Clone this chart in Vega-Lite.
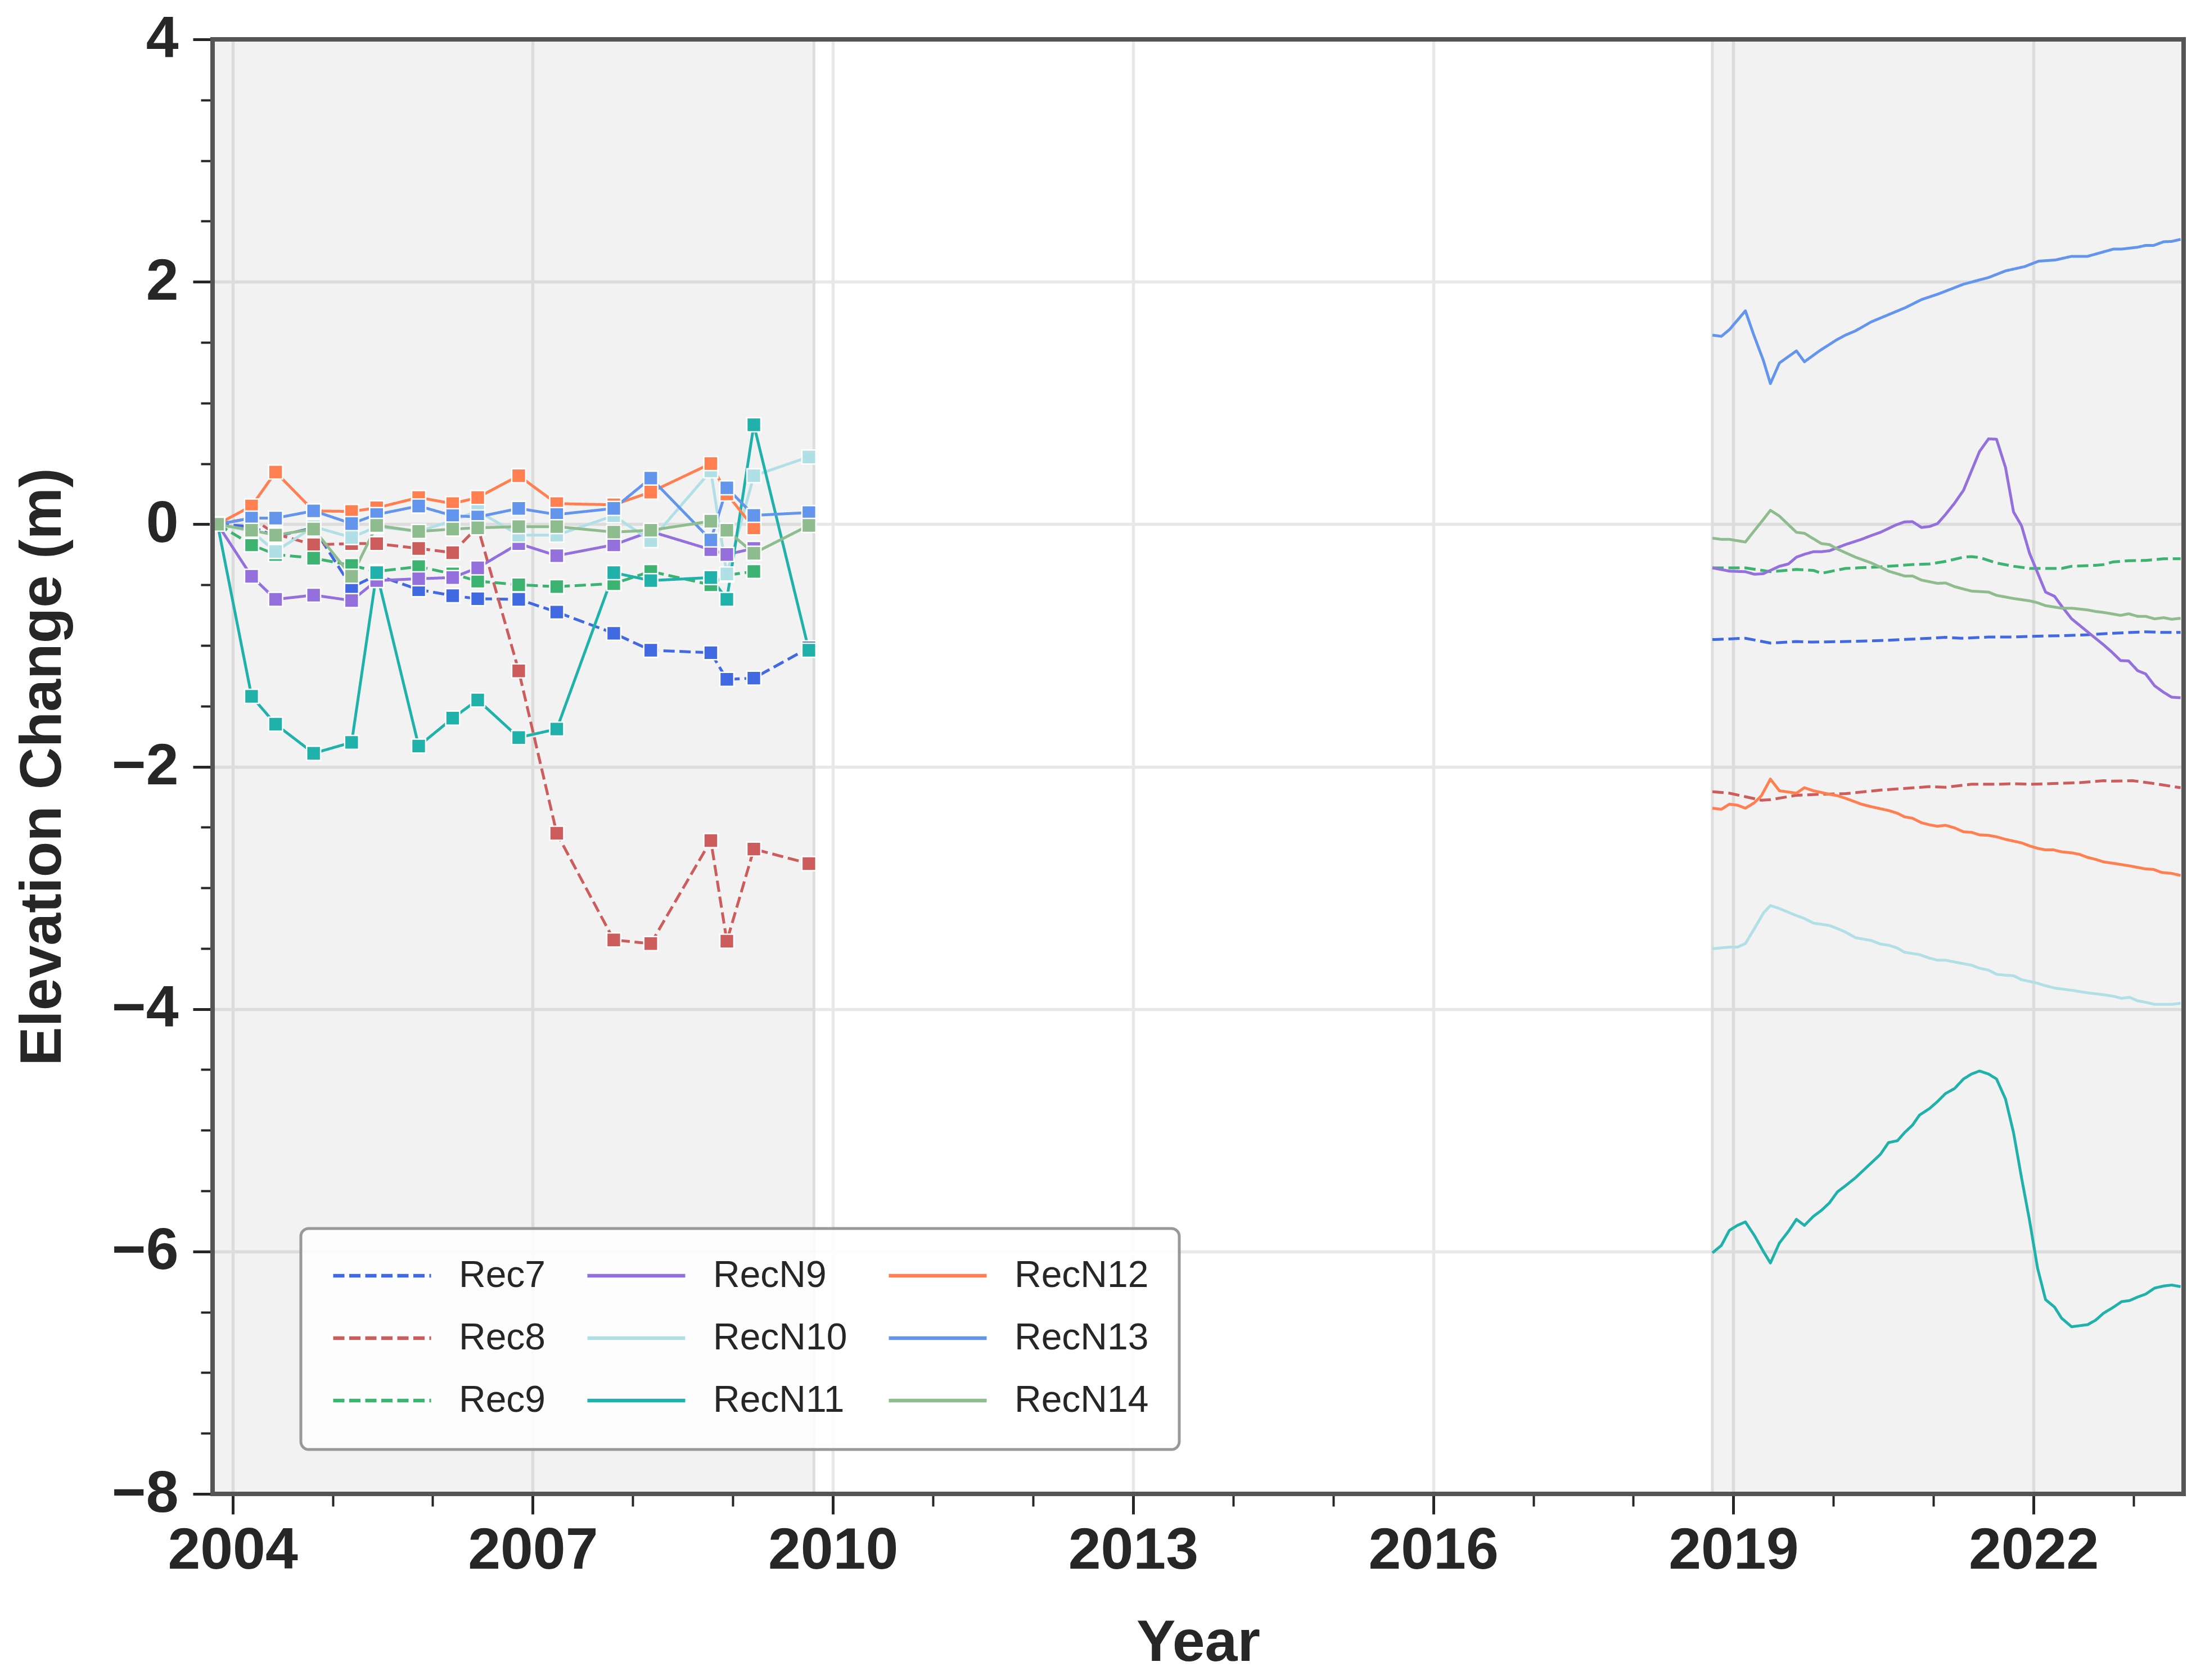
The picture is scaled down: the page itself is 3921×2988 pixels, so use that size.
{
"$schema": "https://vega.github.io/schema/vega-lite/v6.json",
"width": 3505,
"height": 2587,
"autosize": {"type": "none"},
"padding": {"left": 378, "top": 70, "right": 38, "bottom": 331},
"background": "white",
"config": {
  "view": {"stroke": "#555555", "strokeWidth": 8},
  "style": {"cell": {"stroke": "#555555", "strokeWidth": 8, "strokeForeground": true}},
  "axis": {"labelFont": "Liberation Sans", "titleFont": "Liberation Sans", "labelColor": "#262626", "titleColor": "#262626", "tickColor": "#262626", "labelFontWeight": "bold", "titleFontWeight": "bold", "labelFontSize": 104, "titleFontSize": 104, "labelLimit": 1000, "titleLimit": 3000, "domain": false, "labelFlush": false, "labelOverlap": false, "labelBound": false, "gridColor": "#e8e8e8", "gridWidth": 5.5}
},
"datasets": {
  "spans": [{"a": 2003.8, "b": 2009.81}, {"a": 2018.79, "b": 2023.5}],
  "edges": [{"a": 2009.81}, {"a": 2018.79}],
  "series": [
{"s":"Rec7","p":1,"t":2003.85,"v":0},{"s":"Rec7","p":1,"t":2004.19,"v":-0.02},{"s":"Rec7","p":1,"t":2004.43,"v":-0.10},{"s":"Rec7","p":1,"t":2004.81,"v":-0.03},{"s":"Rec7","p":1,"t":2005.19,"v":-0.52},{"s":"Rec7","p":1,"t":2005.44,"v":-0.42},{"s":"Rec7","p":1,"t":2005.86,"v":-0.54},{"s":"Rec7","p":1,"t":2006.20,"v":-0.59},{"s":"Rec7","p":1,"t":2006.45,"v":-0.615},{"s":"Rec7","p":1,"t":2006.86,"v":-0.62},{"s":"Rec7","p":1,"t":2007.24,"v":-0.725},{"s":"Rec7","p":1,"t":2007.81,"v":-0.90},{"s":"Rec7","p":1,"t":2008.18,"v":-1.04},{"s":"Rec7","p":1,"t":2008.78,"v":-1.06},{"s":"Rec7","p":1,"t":2008.94,"v":-1.28},{"s":"Rec7","p":1,"t":2009.21,"v":-1.27},{"s":"Rec7","p":1,"t":2009.76,"v":-1.02},
{"s":"Rec7","p":2,"t":2018.79,"v":-0.952},{"s":"Rec7","p":2,"t":2019.12,"v":-0.941},{"s":"Rec7","p":2,"t":2019.37,"v":-0.981},{"s":"Rec7","p":2,"t":2019.63,"v":-0.968},{"s":"Rec7","p":2,"t":2019.78,"v":-0.973},{"s":"Rec7","p":2,"t":2020.12,"v":-0.968},{"s":"Rec7","p":2,"t":2020.47,"v":-0.96},{"s":"Rec7","p":2,"t":2020.96,"v":-0.941},{"s":"Rec7","p":2,"t":2021.12,"v":-0.933},{"s":"Rec7","p":2,"t":2021.28,"v":-0.941},{"s":"Rec7","p":2,"t":2021.55,"v":-0.931},{"s":"Rec7","p":2,"t":2021.80,"v":-0.931},{"s":"Rec7","p":2,"t":2021.96,"v":-0.925},{"s":"Rec7","p":2,"t":2022.28,"v":-0.92},{"s":"Rec7","p":2,"t":2022.54,"v":-0.912},{"s":"Rec7","p":2,"t":2022.80,"v":-0.899},{"s":"Rec7","p":2,"t":2023.12,"v":-0.888},{"s":"Rec7","p":2,"t":2023.30,"v":-0.893},{"s":"Rec7","p":2,"t":2023.47,"v":-0.893},
{"s":"Rec8","p":1,"t":2003.85,"v":0},{"s":"Rec8","p":1,"t":2004.19,"v":0.05},{"s":"Rec8","p":1,"t":2004.43,"v":-0.08},{"s":"Rec8","p":1,"t":2004.81,"v":-0.17},{"s":"Rec8","p":1,"t":2005.19,"v":-0.16},{"s":"Rec8","p":1,"t":2005.44,"v":-0.16},{"s":"Rec8","p":1,"t":2005.86,"v":-0.20},{"s":"Rec8","p":1,"t":2006.20,"v":-0.235},{"s":"Rec8","p":1,"t":2006.45,"v":-0.02},{"s":"Rec8","p":1,"t":2006.86,"v":-1.21},{"s":"Rec8","p":1,"t":2007.24,"v":-2.55},{"s":"Rec8","p":1,"t":2007.81,"v":-3.43},{"s":"Rec8","p":1,"t":2008.18,"v":-3.46},{"s":"Rec8","p":1,"t":2008.78,"v":-2.61},{"s":"Rec8","p":1,"t":2008.94,"v":-3.44},{"s":"Rec8","p":1,"t":2009.21,"v":-2.68},{"s":"Rec8","p":1,"t":2009.76,"v":-2.80},
{"s":"Rec8","p":2,"t":2018.79,"v":-2.207},{"s":"Rec8","p":2,"t":2018.96,"v":-2.219},{"s":"Rec8","p":2,"t":2019.12,"v":-2.248},{"s":"Rec8","p":2,"t":2019.28,"v":-2.277},{"s":"Rec8","p":2,"t":2019.37,"v":-2.273},{"s":"Rec8","p":2,"t":2019.63,"v":-2.236},{"s":"Rec8","p":2,"t":2019.88,"v":-2.228},{"s":"Rec8","p":2,"t":2020.12,"v":-2.223},{"s":"Rec8","p":2,"t":2020.47,"v":-2.194},{"s":"Rec8","p":2,"t":2020.96,"v":-2.165},{"s":"Rec8","p":2,"t":2021.12,"v":-2.17},{"s":"Rec8","p":2,"t":2021.38,"v":-2.145},{"s":"Rec8","p":2,"t":2021.64,"v":-2.145},{"s":"Rec8","p":2,"t":2021.80,"v":-2.141},{"s":"Rec8","p":2,"t":2021.99,"v":-2.145},{"s":"Rec8","p":2,"t":2022.46,"v":-2.132},{"s":"Rec8","p":2,"t":2022.70,"v":-2.116},{"s":"Rec8","p":2,"t":2022.80,"v":-2.12},{"s":"Rec8","p":2,"t":2022.99,"v":-2.116},{"s":"Rec8","p":2,"t":2023.18,"v":-2.137},{"s":"Rec8","p":2,"t":2023.47,"v":-2.174},
{"s":"Rec9","p":1,"t":2003.85,"v":0},{"s":"Rec9","p":1,"t":2004.19,"v":-0.17},{"s":"Rec9","p":1,"t":2004.43,"v":-0.25},{"s":"Rec9","p":1,"t":2004.81,"v":-0.28},{"s":"Rec9","p":1,"t":2005.19,"v":-0.34},{"s":"Rec9","p":1,"t":2005.44,"v":-0.39},{"s":"Rec9","p":1,"t":2005.86,"v":-0.35},{"s":"Rec9","p":1,"t":2006.20,"v":-0.41},{"s":"Rec9","p":1,"t":2006.45,"v":-0.47},{"s":"Rec9","p":1,"t":2006.86,"v":-0.50},{"s":"Rec9","p":1,"t":2007.24,"v":-0.515},{"s":"Rec9","p":1,"t":2007.81,"v":-0.49},{"s":"Rec9","p":1,"t":2008.18,"v":-0.39},{"s":"Rec9","p":1,"t":2008.78,"v":-0.50},{"s":"Rec9","p":1,"t":2008.94,"v":-0.42},{"s":"Rec9","p":1,"t":2009.21,"v":-0.39},
{"s":"Rec9","p":2,"t":2018.79,"v":-0.36},{"s":"Rec9","p":2,"t":2019.12,"v":-0.36},{"s":"Rec9","p":2,"t":2019.37,"v":-0.392},{"s":"Rec9","p":2,"t":2019.63,"v":-0.373},{"s":"Rec9","p":2,"t":2019.80,"v":-0.381},{"s":"Rec9","p":2,"t":2019.88,"v":-0.405},{"s":"Rec9","p":2,"t":2020.12,"v":-0.365},{"s":"Rec9","p":2,"t":2020.47,"v":-0.352},{"s":"Rec9","p":2,"t":2020.79,"v":-0.333},{"s":"Rec9","p":2,"t":2020.96,"v":-0.328},{"s":"Rec9","p":2,"t":2021.12,"v":-0.307},{"s":"Rec9","p":2,"t":2021.30,"v":-0.272},{"s":"Rec9","p":2,"t":2021.38,"v":-0.267},{"s":"Rec9","p":2,"t":2021.46,"v":-0.275},{"s":"Rec9","p":2,"t":2021.63,"v":-0.32},{"s":"Rec9","p":2,"t":2021.80,"v":-0.347},{"s":"Rec9","p":2,"t":2021.96,"v":-0.365},{"s":"Rec9","p":2,"t":2022.12,"v":-0.365},{"s":"Rec9","p":2,"t":2022.28,"v":-0.365},{"s":"Rec9","p":2,"t":2022.38,"v":-0.347},{"s":"Rec9","p":2,"t":2022.62,"v":-0.339},{"s":"Rec9","p":2,"t":2022.70,"v":-0.333},{"s":"Rec9","p":2,"t":2022.79,"v":-0.312},{"s":"Rec9","p":2,"t":2022.95,"v":-0.301},{"s":"Rec9","p":2,"t":2023.12,"v":-0.299},{"s":"Rec9","p":2,"t":2023.30,"v":-0.285},{"s":"Rec9","p":2,"t":2023.47,"v":-0.285},
{"s":"RecN9","p":1,"t":2003.85,"v":0},{"s":"RecN9","p":1,"t":2004.19,"v":-0.43},{"s":"RecN9","p":1,"t":2004.43,"v":-0.62},{"s":"RecN9","p":1,"t":2004.81,"v":-0.585},{"s":"RecN9","p":1,"t":2005.19,"v":-0.63},{"s":"RecN9","p":1,"t":2005.44,"v":-0.465},{"s":"RecN9","p":1,"t":2005.86,"v":-0.45},{"s":"RecN9","p":1,"t":2006.20,"v":-0.44},{"s":"RecN9","p":1,"t":2006.45,"v":-0.36},{"s":"RecN9","p":1,"t":2006.86,"v":-0.16},{"s":"RecN9","p":1,"t":2007.24,"v":-0.26},{"s":"RecN9","p":1,"t":2007.81,"v":-0.17},{"s":"RecN9","p":1,"t":2008.18,"v":-0.06},{"s":"RecN9","p":1,"t":2008.78,"v":-0.21},{"s":"RecN9","p":1,"t":2008.94,"v":-0.25},{"s":"RecN9","p":1,"t":2009.21,"v":-0.20},
{"s":"RecN9","p":2,"t":2018.79,"v":-0.36},{"s":"RecN9","p":2,"t":2018.96,"v":-0.387},{"s":"RecN9","p":2,"t":2019.12,"v":-0.392},{"s":"RecN9","p":2,"t":2019.21,"v":-0.413},{"s":"RecN9","p":2,"t":2019.30,"v":-0.408},{"s":"RecN9","p":2,"t":2019.46,"v":-0.347},{"s":"RecN9","p":2,"t":2019.55,"v":-0.328},{"s":"RecN9","p":2,"t":2019.63,"v":-0.272},{"s":"RecN9","p":2,"t":2019.71,"v":-0.248},{"s":"RecN9","p":2,"t":2019.80,"v":-0.227},{"s":"RecN9","p":2,"t":2019.88,"v":-0.227},{"s":"RecN9","p":2,"t":2019.96,"v":-0.219},{"s":"RecN9","p":2,"t":2020.12,"v":-0.168},{"s":"RecN9","p":2,"t":2020.28,"v":-0.125},{"s":"RecN9","p":2,"t":2020.38,"v":-0.093},{"s":"RecN9","p":2,"t":2020.47,"v":-0.067},{"s":"RecN9","p":2,"t":2020.62,"v":-0.008},{"s":"RecN9","p":2,"t":2020.71,"v":0.019},{"s":"RecN9","p":2,"t":2020.79,"v":0.021},{"s":"RecN9","p":2,"t":2020.88,"v":-0.027},{"s":"RecN9","p":2,"t":2020.96,"v":-0.019},{"s":"RecN9","p":2,"t":2021.04,"v":0.005},{"s":"RecN9","p":2,"t":2021.12,"v":0.08},{"s":"RecN9","p":2,"t":2021.21,"v":0.173},{"s":"RecN9","p":2,"t":2021.30,"v":0.28},{"s":"RecN9","p":2,"t":2021.38,"v":0.44},{"s":"RecN9","p":2,"t":2021.46,"v":0.60},{"s":"RecN9","p":2,"t":2021.55,"v":0.704},{"s":"RecN9","p":2,"t":2021.63,"v":0.701},{"s":"RecN9","p":2,"t":2021.72,"v":0.467},{"s":"RecN9","p":2,"t":2021.80,"v":0.101},{"s":"RecN9","p":2,"t":2021.88,"v":-0.013},{"s":"RecN9","p":2,"t":2021.96,"v":-0.24},{"s":"RecN9","p":2,"t":2022.04,"v":-0.40},{"s":"RecN9","p":2,"t":2022.12,"v":-0.56},{"s":"RecN9","p":2,"t":2022.21,"v":-0.595},{"s":"RecN9","p":2,"t":2022.28,"v":-0.675},{"s":"RecN9","p":2,"t":2022.38,"v":-0.78},{"s":"RecN9","p":2,"t":2022.54,"v":-0.888},{"s":"RecN9","p":2,"t":2022.70,"v":-0.995},{"s":"RecN9","p":2,"t":2022.78,"v":-1.053},{"s":"RecN9","p":2,"t":2022.87,"v":-1.125},{"s":"RecN9","p":2,"t":2022.95,"v":-1.128},{"s":"RecN9","p":2,"t":2023.04,"v":-1.208},{"s":"RecN9","p":2,"t":2023.12,"v":-1.235},{"s":"RecN9","p":2,"t":2023.21,"v":-1.333},{"s":"RecN9","p":2,"t":2023.30,"v":-1.387},{"s":"RecN9","p":2,"t":2023.38,"v":-1.427},{"s":"RecN9","p":2,"t":2023.47,"v":-1.432},
{"s":"RecN10","p":1,"t":2003.85,"v":0},{"s":"RecN10","p":1,"t":2004.19,"v":-0.06},{"s":"RecN10","p":1,"t":2004.43,"v":-0.225},{"s":"RecN10","p":1,"t":2004.81,"v":-0.02},{"s":"RecN10","p":1,"t":2005.19,"v":-0.11},{"s":"RecN10","p":1,"t":2005.44,"v":-0.02},{"s":"RecN10","p":1,"t":2005.86,"v":-0.06},{"s":"RecN10","p":1,"t":2006.20,"v":0.03},{"s":"RecN10","p":1,"t":2006.45,"v":0.11},{"s":"RecN10","p":1,"t":2006.86,"v":-0.09},{"s":"RecN10","p":1,"t":2007.24,"v":-0.09},{"s":"RecN10","p":1,"t":2007.81,"v":0.07},{"s":"RecN10","p":1,"t":2008.18,"v":-0.135},{"s":"RecN10","p":1,"t":2008.78,"v":0.44},{"s":"RecN10","p":1,"t":2008.94,"v":-0.41},{"s":"RecN10","p":1,"t":2009.21,"v":0.40},{"s":"RecN10","p":1,"t":2009.76,"v":0.555},
{"s":"RecN10","p":2,"t":2018.79,"v":-3.502},{"s":"RecN10","p":2,"t":2018.96,"v":-3.489},{"s":"RecN10","p":2,"t":2019.04,"v":-3.489},{"s":"RecN10","p":2,"t":2019.12,"v":-3.46},{"s":"RecN10","p":2,"t":2019.21,"v":-3.336},{"s":"RecN10","p":2,"t":2019.30,"v":-3.208},{"s":"RecN10","p":2,"t":2019.37,"v":-3.146},{"s":"RecN10","p":2,"t":2019.46,"v":-3.171},{"s":"RecN10","p":2,"t":2019.63,"v":-3.229},{"s":"RecN10","p":2,"t":2019.71,"v":-3.253},{"s":"RecN10","p":2,"t":2019.80,"v":-3.291},{"s":"RecN10","p":2,"t":2019.96,"v":-3.311},{"s":"RecN10","p":2,"t":2020.04,"v":-3.336},{"s":"RecN10","p":2,"t":2020.12,"v":-3.365},{"s":"RecN10","p":2,"t":2020.22,"v":-3.411},{"s":"RecN10","p":2,"t":2020.38,"v":-3.435},{"s":"RecN10","p":2,"t":2020.47,"v":-3.464},{"s":"RecN10","p":2,"t":2020.55,"v":-3.473},{"s":"RecN10","p":2,"t":2020.64,"v":-3.497},{"s":"RecN10","p":2,"t":2020.71,"v":-3.531},{"s":"RecN10","p":2,"t":2020.86,"v":-3.551},{"s":"RecN10","p":2,"t":2020.96,"v":-3.58},{"s":"RecN10","p":2,"t":2021.04,"v":-3.597},{"s":"RecN10","p":2,"t":2021.12,"v":-3.597},{"s":"RecN10","p":2,"t":2021.30,"v":-3.626},{"s":"RecN10","p":2,"t":2021.38,"v":-3.638},{"s":"RecN10","p":2,"t":2021.46,"v":-3.663},{"s":"RecN10","p":2,"t":2021.55,"v":-3.679},{"s":"RecN10","p":2,"t":2021.63,"v":-3.713},{"s":"RecN10","p":2,"t":2021.72,"v":-3.721},{"s":"RecN10","p":2,"t":2021.80,"v":-3.725},{"s":"RecN10","p":2,"t":2021.88,"v":-3.758},{"s":"RecN10","p":2,"t":2022.04,"v":-3.787},{"s":"RecN10","p":2,"t":2022.12,"v":-3.808},{"s":"RecN10","p":2,"t":2022.22,"v":-3.828},{"s":"RecN10","p":2,"t":2022.38,"v":-3.845},{"s":"RecN10","p":2,"t":2022.54,"v":-3.866},{"s":"RecN10","p":2,"t":2022.70,"v":-3.882},{"s":"RecN10","p":2,"t":2022.80,"v":-3.895},{"s":"RecN10","p":2,"t":2022.88,"v":-3.911},{"s":"RecN10","p":2,"t":2022.96,"v":-3.903},{"s":"RecN10","p":2,"t":2023.04,"v":-3.932},{"s":"RecN10","p":2,"t":2023.12,"v":-3.944},{"s":"RecN10","p":2,"t":2023.21,"v":-3.961},{"s":"RecN10","p":2,"t":2023.30,"v":-3.961},{"s":"RecN10","p":2,"t":2023.38,"v":-3.961},{"s":"RecN10","p":2,"t":2023.47,"v":-3.952},
{"s":"RecN11","p":1,"t":2003.85,"v":0},{"s":"RecN11","p":1,"t":2004.19,"v":-1.42},{"s":"RecN11","p":1,"t":2004.43,"v":-1.65},{"s":"RecN11","p":1,"t":2004.81,"v":-1.89},{"s":"RecN11","p":1,"t":2005.19,"v":-1.80},{"s":"RecN11","p":1,"t":2005.44,"v":-0.40},{"s":"RecN11","p":1,"t":2005.86,"v":-1.83},{"s":"RecN11","p":1,"t":2006.20,"v":-1.60},{"s":"RecN11","p":1,"t":2006.45,"v":-1.45},{"s":"RecN11","p":1,"t":2006.86,"v":-1.76},{"s":"RecN11","p":1,"t":2007.24,"v":-1.69},{"s":"RecN11","p":1,"t":2007.81,"v":-0.40},{"s":"RecN11","p":1,"t":2008.18,"v":-0.465},{"s":"RecN11","p":1,"t":2008.78,"v":-0.44},{"s":"RecN11","p":1,"t":2008.94,"v":-0.62},{"s":"RecN11","p":1,"t":2009.21,"v":0.82},{"s":"RecN11","p":1,"t":2009.76,"v":-1.04},
{"s":"RecN11","p":2,"t":2018.79,"v":-6.012},{"s":"RecN11","p":2,"t":2018.88,"v":-5.95},{"s":"RecN11","p":2,"t":2018.96,"v":-5.826},{"s":"RecN11","p":2,"t":2019.04,"v":-5.785},{"s":"RecN11","p":2,"t":2019.12,"v":-5.756},{"s":"RecN11","p":2,"t":2019.21,"v":-5.868},{"s":"RecN11","p":2,"t":2019.30,"v":-6.0},{"s":"RecN11","p":2,"t":2019.37,"v":-6.095},{"s":"RecN11","p":2,"t":2019.46,"v":-5.93},{"s":"RecN11","p":2,"t":2019.55,"v":-5.834},{"s":"RecN11","p":2,"t":2019.63,"v":-5.735},{"s":"RecN11","p":2,"t":2019.71,"v":-5.785},{"s":"RecN11","p":2,"t":2019.80,"v":-5.71},{"s":"RecN11","p":2,"t":2019.88,"v":-5.661},{"s":"RecN11","p":2,"t":2019.96,"v":-5.599},{"s":"RecN11","p":2,"t":2020.04,"v":-5.508},{"s":"RecN11","p":2,"t":2020.12,"v":-5.458},{"s":"RecN11","p":2,"t":2020.22,"v":-5.392},{"s":"RecN11","p":2,"t":2020.30,"v":-5.33},{"s":"RecN11","p":2,"t":2020.38,"v":-5.268},{"s":"RecN11","p":2,"t":2020.47,"v":-5.198},{"s":"RecN11","p":2,"t":2020.55,"v":-5.102},{"s":"RecN11","p":2,"t":2020.64,"v":-5.086},{"s":"RecN11","p":2,"t":2020.71,"v":-5.02},{"s":"RecN11","p":2,"t":2020.79,"v":-4.958},{"s":"RecN11","p":2,"t":2020.86,"v":-4.875},{"s":"RecN11","p":2,"t":2020.96,"v":-4.821},{"s":"RecN11","p":2,"t":2021.04,"v":-4.763},{"s":"RecN11","p":2,"t":2021.12,"v":-4.697},{"s":"RecN11","p":2,"t":2021.21,"v":-4.656},{"s":"RecN11","p":2,"t":2021.30,"v":-4.577},{"s":"RecN11","p":2,"t":2021.38,"v":-4.536},{"s":"RecN11","p":2,"t":2021.46,"v":-4.511},{"s":"RecN11","p":2,"t":2021.55,"v":-4.536},{"s":"RecN11","p":2,"t":2021.63,"v":-4.577},{"s":"RecN11","p":2,"t":2021.72,"v":-4.743},{"s":"RecN11","p":2,"t":2021.80,"v":-5.02},{"s":"RecN11","p":2,"t":2021.88,"v":-5.392},{"s":"RecN11","p":2,"t":2021.96,"v":-5.744},{"s":"RecN11","p":2,"t":2022.04,"v":-6.137},{"s":"RecN11","p":2,"t":2022.12,"v":-6.397},{"s":"RecN11","p":2,"t":2022.21,"v":-6.459},{"s":"RecN11","p":2,"t":2022.28,"v":-6.55},{"s":"RecN11","p":2,"t":2022.38,"v":-6.621},{"s":"RecN11","p":2,"t":2022.54,"v":-6.604},{"s":"RecN11","p":2,"t":2022.62,"v":-6.567},{"s":"RecN11","p":2,"t":2022.70,"v":-6.509},{"s":"RecN11","p":2,"t":2022.80,"v":-6.459},{"s":"RecN11","p":2,"t":2022.88,"v":-6.414},{"s":"RecN11","p":2,"t":2022.96,"v":-6.405},{"s":"RecN11","p":2,"t":2023.04,"v":-6.376},{"s":"RecN11","p":2,"t":2023.12,"v":-6.352},{"s":"RecN11","p":2,"t":2023.21,"v":-6.302},{"s":"RecN11","p":2,"t":2023.30,"v":-6.285},{"s":"RecN11","p":2,"t":2023.38,"v":-6.277},{"s":"RecN11","p":2,"t":2023.47,"v":-6.29},
{"s":"RecN12","p":1,"t":2003.85,"v":0},{"s":"RecN12","p":1,"t":2004.19,"v":0.15},{"s":"RecN12","p":1,"t":2004.43,"v":0.43},{"s":"RecN12","p":1,"t":2004.81,"v":0.11},{"s":"RecN12","p":1,"t":2005.19,"v":0.105},{"s":"RecN12","p":1,"t":2005.44,"v":0.135},{"s":"RecN12","p":1,"t":2005.86,"v":0.22},{"s":"RecN12","p":1,"t":2006.20,"v":0.17},{"s":"RecN12","p":1,"t":2006.45,"v":0.22},{"s":"RecN12","p":1,"t":2006.86,"v":0.40},{"s":"RecN12","p":1,"t":2007.24,"v":0.17},{"s":"RecN12","p":1,"t":2007.81,"v":0.16},{"s":"RecN12","p":1,"t":2008.18,"v":0.265},{"s":"RecN12","p":1,"t":2008.78,"v":0.50},{"s":"RecN12","p":1,"t":2008.94,"v":0.25},{"s":"RecN12","p":1,"t":2009.21,"v":-0.03},
{"s":"RecN12","p":2,"t":2018.79,"v":-2.343},{"s":"RecN12","p":2,"t":2018.88,"v":-2.352},{"s":"RecN12","p":2,"t":2018.96,"v":-2.31},{"s":"RecN12","p":2,"t":2019.04,"v":-2.318},{"s":"RecN12","p":2,"t":2019.12,"v":-2.343},{"s":"RecN12","p":2,"t":2019.21,"v":-2.298},{"s":"RecN12","p":2,"t":2019.28,"v":-2.24},{"s":"RecN12","p":2,"t":2019.37,"v":-2.103},{"s":"RecN12","p":2,"t":2019.46,"v":-2.199},{"s":"RecN12","p":2,"t":2019.63,"v":-2.219},{"s":"RecN12","p":2,"t":2019.71,"v":-2.174},{"s":"RecN12","p":2,"t":2019.80,"v":-2.199},{"s":"RecN12","p":2,"t":2019.96,"v":-2.228},{"s":"RecN12","p":2,"t":2020.04,"v":-2.24},{"s":"RecN12","p":2,"t":2020.12,"v":-2.261},{"s":"RecN12","p":2,"t":2020.28,"v":-2.31},{"s":"RecN12","p":2,"t":2020.38,"v":-2.331},{"s":"RecN12","p":2,"t":2020.56,"v":-2.364},{"s":"RecN12","p":2,"t":2020.64,"v":-2.385},{"s":"RecN12","p":2,"t":2020.71,"v":-2.414},{"s":"RecN12","p":2,"t":2020.79,"v":-2.426},{"s":"RecN12","p":2,"t":2020.88,"v":-2.463},{"s":"RecN12","p":2,"t":2020.96,"v":-2.48},{"s":"RecN12","p":2,"t":2021.04,"v":-2.492},{"s":"RecN12","p":2,"t":2021.12,"v":-2.484},{"s":"RecN12","p":2,"t":2021.21,"v":-2.505},{"s":"RecN12","p":2,"t":2021.30,"v":-2.538},{"s":"RecN12","p":2,"t":2021.38,"v":-2.542},{"s":"RecN12","p":2,"t":2021.46,"v":-2.563},{"s":"RecN12","p":2,"t":2021.55,"v":-2.567},{"s":"RecN12","p":2,"t":2021.63,"v":-2.579},{"s":"RecN12","p":2,"t":2021.72,"v":-2.6},{"s":"RecN12","p":2,"t":2021.88,"v":-2.629},{"s":"RecN12","p":2,"t":2021.96,"v":-2.654},{"s":"RecN12","p":2,"t":2022.04,"v":-2.674},{"s":"RecN12","p":2,"t":2022.12,"v":-2.687},{"s":"RecN12","p":2,"t":2022.20,"v":-2.687},{"s":"RecN12","p":2,"t":2022.28,"v":-2.703},{"s":"RecN12","p":2,"t":2022.38,"v":-2.711},{"s":"RecN12","p":2,"t":2022.46,"v":-2.724},{"s":"RecN12","p":2,"t":2022.54,"v":-2.749},{"s":"RecN12","p":2,"t":2022.62,"v":-2.765},{"s":"RecN12","p":2,"t":2022.70,"v":-2.786},{"s":"RecN12","p":2,"t":2022.80,"v":-2.798},{"s":"RecN12","p":2,"t":2022.96,"v":-2.819},{"s":"RecN12","p":2,"t":2023.12,"v":-2.844},{"s":"RecN12","p":2,"t":2023.20,"v":-2.848},{"s":"RecN12","p":2,"t":2023.28,"v":-2.873},{"s":"RecN12","p":2,"t":2023.38,"v":-2.881},{"s":"RecN12","p":2,"t":2023.47,"v":-2.898},
{"s":"RecN13","p":1,"t":2003.85,"v":0},{"s":"RecN13","p":1,"t":2004.19,"v":0.05},{"s":"RecN13","p":1,"t":2004.43,"v":0.05},{"s":"RecN13","p":1,"t":2004.81,"v":0.11},{"s":"RecN13","p":1,"t":2005.19,"v":0.005},{"s":"RecN13","p":1,"t":2005.44,"v":0.08},{"s":"RecN13","p":1,"t":2005.86,"v":0.15},{"s":"RecN13","p":1,"t":2006.20,"v":0.07},{"s":"RecN13","p":1,"t":2006.45,"v":0.06},{"s":"RecN13","p":1,"t":2006.86,"v":0.13},{"s":"RecN13","p":1,"t":2007.24,"v":0.08},{"s":"RecN13","p":1,"t":2007.81,"v":0.13},{"s":"RecN13","p":1,"t":2008.18,"v":0.38},{"s":"RecN13","p":1,"t":2008.78,"v":-0.13},{"s":"RecN13","p":1,"t":2008.94,"v":0.30},{"s":"RecN13","p":1,"t":2009.21,"v":0.073},{"s":"RecN13","p":1,"t":2009.76,"v":0.096},
{"s":"RecN13","p":2,"t":2018.79,"v":1.56},{"s":"RecN13","p":2,"t":2018.88,"v":1.55},{"s":"RecN13","p":2,"t":2018.96,"v":1.605},{"s":"RecN13","p":2,"t":2019.12,"v":1.76},{"s":"RecN13","p":2,"t":2019.20,"v":1.57},{"s":"RecN13","p":2,"t":2019.30,"v":1.35},{"s":"RecN13","p":2,"t":2019.37,"v":1.16},{"s":"RecN13","p":2,"t":2019.46,"v":1.33},{"s":"RecN13","p":2,"t":2019.63,"v":1.43},{"s":"RecN13","p":2,"t":2019.71,"v":1.34},{"s":"RecN13","p":2,"t":2019.86,"v":1.43},{"s":"RecN13","p":2,"t":2020.03,"v":1.52},{"s":"RecN13","p":2,"t":2020.12,"v":1.56},{"s":"RecN13","p":2,"t":2020.22,"v":1.595},{"s":"RecN13","p":2,"t":2020.38,"v":1.67},{"s":"RecN13","p":2,"t":2020.54,"v":1.725},{"s":"RecN13","p":2,"t":2020.72,"v":1.787},{"s":"RecN13","p":2,"t":2020.88,"v":1.853},{"s":"RecN13","p":2,"t":2021.05,"v":1.90},{"s":"RecN13","p":2,"t":2021.30,"v":1.98},{"s":"RecN13","p":2,"t":2021.55,"v":2.035},{"s":"RecN13","p":2,"t":2021.72,"v":2.09},{"s":"RecN13","p":2,"t":2021.91,"v":2.125},{"s":"RecN13","p":2,"t":2022.05,"v":2.17},{"s":"RecN13","p":2,"t":2022.22,"v":2.18},{"s":"RecN13","p":2,"t":2022.38,"v":2.21},{"s":"RecN13","p":2,"t":2022.54,"v":2.21},{"s":"RecN13","p":2,"t":2022.67,"v":2.24},{"s":"RecN13","p":2,"t":2022.80,"v":2.27},{"s":"RecN13","p":2,"t":2022.88,"v":2.27},{"s":"RecN13","p":2,"t":2023.04,"v":2.285},{"s":"RecN13","p":2,"t":2023.12,"v":2.30},{"s":"RecN13","p":2,"t":2023.20,"v":2.30},{"s":"RecN13","p":2,"t":2023.30,"v":2.33},{"s":"RecN13","p":2,"t":2023.38,"v":2.333},{"s":"RecN13","p":2,"t":2023.47,"v":2.35},
{"s":"RecN14","p":1,"t":2003.85,"v":0},{"s":"RecN14","p":1,"t":2004.19,"v":-0.05},{"s":"RecN14","p":1,"t":2004.43,"v":-0.09},{"s":"RecN14","p":1,"t":2004.81,"v":-0.04},{"s":"RecN14","p":1,"t":2005.19,"v":-0.43},{"s":"RecN14","p":1,"t":2005.44,"v":-0.01},{"s":"RecN14","p":1,"t":2005.86,"v":-0.06},{"s":"RecN14","p":1,"t":2006.20,"v":-0.04},{"s":"RecN14","p":1,"t":2006.45,"v":-0.03},{"s":"RecN14","p":1,"t":2006.86,"v":-0.02},{"s":"RecN14","p":1,"t":2007.24,"v":-0.02},{"s":"RecN14","p":1,"t":2007.81,"v":-0.065},{"s":"RecN14","p":1,"t":2008.18,"v":-0.05},{"s":"RecN14","p":1,"t":2008.78,"v":0.025},{"s":"RecN14","p":1,"t":2008.94,"v":-0.05},{"s":"RecN14","p":1,"t":2009.21,"v":-0.24},{"s":"RecN14","p":1,"t":2009.76,"v":-0.01},
{"s":"RecN14","p":2,"t":2018.79,"v":-0.115},{"s":"RecN14","p":2,"t":2018.88,"v":-0.125},{"s":"RecN14","p":2,"t":2018.96,"v":-0.125},{"s":"RecN14","p":2,"t":2019.12,"v":-0.147},{"s":"RecN14","p":2,"t":2019.21,"v":-0.053},{"s":"RecN14","p":2,"t":2019.30,"v":0.04},{"s":"RecN14","p":2,"t":2019.37,"v":0.115},{"s":"RecN14","p":2,"t":2019.46,"v":0.067},{"s":"RecN14","p":2,"t":2019.63,"v":-0.067},{"s":"RecN14","p":2,"t":2019.71,"v":-0.075},{"s":"RecN14","p":2,"t":2019.80,"v":-0.12},{"s":"RecN14","p":2,"t":2019.88,"v":-0.16},{"s":"RecN14","p":2,"t":2019.96,"v":-0.168},{"s":"RecN14","p":2,"t":2020.04,"v":-0.205},{"s":"RecN14","p":2,"t":2020.12,"v":-0.235},{"s":"RecN14","p":2,"t":2020.22,"v":-0.272},{"s":"RecN14","p":2,"t":2020.38,"v":-0.32},{"s":"RecN14","p":2,"t":2020.47,"v":-0.355},{"s":"RecN14","p":2,"t":2020.55,"v":-0.387},{"s":"RecN14","p":2,"t":2020.71,"v":-0.427},{"s":"RecN14","p":2,"t":2020.79,"v":-0.427},{"s":"RecN14","p":2,"t":2020.88,"v":-0.461},{"s":"RecN14","p":2,"t":2021.04,"v":-0.488},{"s":"RecN14","p":2,"t":2021.12,"v":-0.485},{"s":"RecN14","p":2,"t":2021.21,"v":-0.515},{"s":"RecN14","p":2,"t":2021.38,"v":-0.552},{"s":"RecN14","p":2,"t":2021.55,"v":-0.56},{"s":"RecN14","p":2,"t":2021.63,"v":-0.587},{"s":"RecN14","p":2,"t":2021.80,"v":-0.613},{"s":"RecN14","p":2,"t":2021.96,"v":-0.632},{"s":"RecN14","p":2,"t":2022.04,"v":-0.648},{"s":"RecN14","p":2,"t":2022.12,"v":-0.672},{"s":"RecN14","p":2,"t":2022.28,"v":-0.693},{"s":"RecN14","p":2,"t":2022.38,"v":-0.693},{"s":"RecN14","p":2,"t":2022.54,"v":-0.707},{"s":"RecN14","p":2,"t":2022.62,"v":-0.72},{"s":"RecN14","p":2,"t":2022.70,"v":-0.728},{"s":"RecN14","p":2,"t":2022.87,"v":-0.752},{"s":"RecN14","p":2,"t":2022.95,"v":-0.739},{"s":"RecN14","p":2,"t":2023.04,"v":-0.76},{"s":"RecN14","p":2,"t":2023.12,"v":-0.76},{"s":"RecN14","p":2,"t":2023.21,"v":-0.781},{"s":"RecN14","p":2,"t":2023.30,"v":-0.771},{"s":"RecN14","p":2,"t":2023.38,"v":-0.784},{"s":"RecN14","p":2,"t":2023.47,"v":-0.776}
  ]
},
"layer": [
  {
    "data": {"name": "spans"},
    "mark": {"type": "rect", "fill": "#000000", "fillOpacity": 0.05},
    "encoding": {
      "x": {"field": "a", "type": "quantitative", "scale": {"domain": [2003.8, 2023.5], "nice": false, "zero": false},
            "axis": {"orient": "bottom", "values": [2004,2005,2006,2007,2008,2009,2010,2011,2012,2013,2014,2015,2016,2017,2018,2019,2020,2021,2022,2023], "labels": false, "grid": false, "tickSize": 22, "tickWidth": 4, "title": null}},
      "x2": {"field": "b"}
    }
  },
  {
    "data": {"name": "edges"},
    "mark": {"type": "rule", "color": "#dddddd", "strokeWidth": 5},
    "encoding": {"x": {"field": "a", "type": "quantitative", "axis": null}}
  },
  {
    "data": {"name": "series"},
    "mark": {"type": "line", "strokeWidth": 5, "strokeJoin": "round"},
    "encoding": {
      "x": {"field": "t", "type": "quantitative", "scale": {"domain": [2003.8, 2023.5], "nice": false, "zero": false},
            "axis": {"orient": "bottom", "values": [2004,2007,2010,2013,2016,2019,2022], "format": "d", "tickSize": 36, "tickWidth": 5, "labelPadding": 14, "grid": true, "title": "Year", "titlePadding": 61}},
      "y": {"field": "v", "type": "quantitative", "scale": {"domain": [-8, 4], "nice": false, "zero": false},
            "axis": {"orient": "left", "values": [-8,-6,-4,-2,0,2,4], "format": "d", "tickSize": 35, "tickWidth": 5, "labelPadding": 26, "grid": true,
                     "gridOpacity": {"condition": {"test": "datum.value == 4 || datum.value == -8", "value": 0}, "value": 1},
                     "title": "Elevation Change (m)", "titlePadding": 69}},
      "color": {"field": "s", "type": "nominal",
                "scale": {"domain": ["Rec7","Rec8","Rec9","RecN9","RecN10","RecN11","RecN12","RecN13","RecN14"],
                          "range": ["#4169E1","#CD5C5C","#3CB371","#9370DB","#B0E0E6","#20B2AA","#FF7F50","#6495ED","#8FBC8F"]},
                "legend": {"orient": "none", "legendX": 157, "legendY": 2115, "columns": 3, "title": null,
                           "symbolType": "stroke", "symbolSize": 30276, "symbolStrokeWidth": 6.5,
                           "labelFont": "Liberation Sans", "labelFontSize": 66, "labelColor": "#262626", "labelOffset": 46, "labelLimit": 1000,
                           "columnPadding": 70, "rowPadding": 45, "clipHeight": 60, "padding": 54,
                           "fillColor": "rgba(255,255,255,0.85)", "strokeColor": "#999999", "cornerRadius": 14,
                           "encode": {"legend": {"update": {"strokeWidth": {"value": 5}}},
                                      "symbols": {"update": {"strokeDash": {"signal": "indexof(['Rec7','Rec8','Rec9'], datum.value) >= 0 ? [25.5, 11.5] : [1, 0]"}}}}}},
      "strokeDash": {"field": "s", "type": "nominal",
                     "scale": {"domain": ["Rec7","Rec8","Rec9","RecN9","RecN10","RecN11","RecN12","RecN13","RecN14"],
                               "range": [[20,8.5],[20,8.5],[20,8.5],[1,0],[1,0],[1,0],[1,0],[1,0],[1,0]]}},
      "detail": {"field": "p", "type": "nominal"}
    }
  },
  {
    "data": {"name": "series"},
    "transform": [{"filter": "datum.p == 1"}],
    "mark": {"type": "point", "shape": "square", "filled": true, "size": 620, "stroke": "white", "strokeWidth": 2.5, "opacity": 1},
    "encoding": {
      "x": {"field": "t", "type": "quantitative", "axis": null},
      "y": {"field": "v", "type": "quantitative",
            "axis": {"orient": "left", "values": [-8,-7.5,-7,-6.5,-6,-5.5,-5,-4.5,-4,-3.5,-3,-2.5,-2,-1.5,-1,-0.5,0,0.5,1,1.5,2,2.5,3,3.5,4], "labels": false, "grid": false, "tickSize": 21, "tickWidth": 4, "title": null}},
      "fill": {"field": "s", "type": "nominal",
               "scale": {"domain": ["Rec7","Rec8","Rec9","RecN9","RecN10","RecN11","RecN12","RecN13","RecN14"],
                         "range": ["#4169E1","#CD5C5C","#3CB371","#9370DB","#B0E0E6","#20B2AA","#FF7F50","#6495ED","#8FBC8F"]},
               "legend": null}
    }
  }
],
"resolve": {"axis": {"x": "independent", "y": "independent"}}
}
